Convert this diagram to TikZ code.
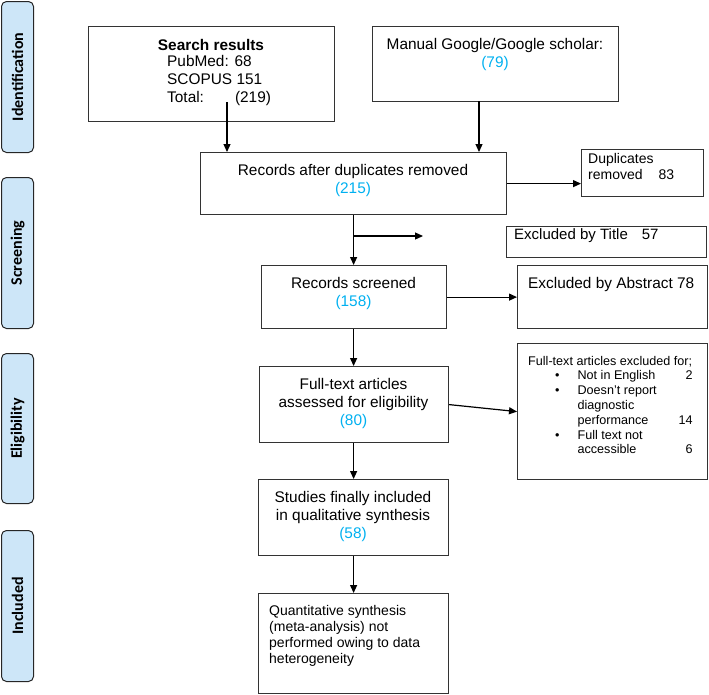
\documentclass[tikz,border=0pt]{standalone}
\usepackage{fontspec}
\setmainfont{Liberation Sans}
\newfontfamily\carlito{Carlito}
\usetikzlibrary{arrows.meta,calc}
\definecolor{nblue}{RGB}{0,176,240}
\definecolor{sidefill}{RGB}{205,230,248}
\begin{document}
\begin{tikzpicture}[x=1pt,y=-1pt,
  box/.style={draw=black!80, line width=1.2pt, inner sep=0pt, anchor=north west},
  side/.style={draw=black!85, fill=sidefill, rounded corners=5pt, line width=1pt, inner sep=0pt, anchor=north west, minimum width=32pt},
  sidetxt/.style={rotate=90, font=\carlito\bfseries\fontsize{16}{20}\selectfont},
  txt/.style={inner sep=0pt, align=center, font=\fontsize{15.4}{18}\selectfont},
  ltxt/.style={inner sep=0pt, align=left, anchor=west, font=\fontsize{15.4}{18}\selectfont},
  stxt/.style={inner sep=0pt, align=left, anchor=west, font=\fontsize{14}{16}\selectfont},
  arr/.style={-{Triangle[length=8pt,width=7pt]}, line width=1.2pt}]
\useasboundingbox (0,0) rectangle (709,694);
% side labels
\node[side, minimum height=151pt] (s1) at (1,1) {};
\node[side, minimum height=151pt] (s2) at (1,177) {};
\node[side, minimum height=150pt] (s3) at (1,353) {};
\node[side, minimum height=151pt] (s4) at (1,530) {};
\node[sidetxt] (s1t) at (s1.center) {Identification};
\node[sidetxt] (s2t) at (s2.center) {Screening};
\node[sidetxt] (s3t) at (s3.center) {Eligibility};
\node[sidetxt] (s4t) at (s4.center) {Included};
% boxes
\node[box, minimum width=246pt, minimum height=95pt] (search) at (88,26) {};
\node[box, minimum width=246pt, minimum height=75pt] (manual) at (372,26) {};
\node[box, minimum width=306pt, minimum height=62pt] (recdup) at (200,152) {};
\node[box, minimum width=122pt, minimum height=47pt] (dup) at (581,149) {};
\node[box, minimum width=200pt, minimum height=31pt] (title) at (506,226) {};
\node[box, minimum width=185pt, minimum height=63pt] (screened) at (261,265) {};
\node[box, minimum width=190pt, minimum height=63pt] (abstract) at (517,265) {};
\node[box, minimum width=189pt, minimum height=76pt] (fulltext) at (259,366) {};
\node[box, minimum width=190pt, minimum height=136pt] (exclfor) at (517,343) {};
\node[box, minimum width=190pt, minimum height=76pt] (studies) at (258,479) {};
\node[box, minimum width=190pt, minimum height=100pt] (quant) at (258,593) {};
% texts
\node[txt, font=\bfseries\fontsize{15.4}{18}\selectfont] (st) at (211,45) {Search results};
\node[ltxt] (sl) at (167,81) {PubMed: 68\\SCOPUS 151\\Total:\hspace{31pt}(219)};
\node[txt] (mt) at (495,55) {Manual Google/Google scholar:\\{\color{nblue}(79)}};
\node[txt] (rt) at (353,181) {Records after duplicates removed\\{\color{nblue}(215)}};
\node[stxt] (dt) at (588,166) {Duplicates\\removed\hspace{16pt}83};
\node[ltxt, font=\fontsize{15}{18}\selectfont] (tt) at (514,236) {Excluded by Title\hspace{14pt}57};
\node[txt] (sct) at (353.5,293.5) {Records screened\\{\color{nblue}(158)}};
\node[ltxt] (at) at (528,285) {Excluded by Abstract 78};
\node[txt] (ft) at (353.5,404) {Full-text articles\\assessed for eligibility\\{\color{nblue}(80)}};
\node[inner sep=0pt, anchor=north west, font=\fontsize{12.6}{14.8}\selectfont] (et) at (528,354.5) {%
\begin{tabular}{@{\hspace{27pt}}c@{\hspace{18pt}}p{101pt}@{}r@{}}
\multicolumn{3}{@{}l@{}}{Full-text articles excluded for;}\\
\textbullet & Not in English & 2\\
\textbullet & Doesn’t report & \\
 & diagnostic & \\
 & performance & 14\\
\textbullet & Full text not & \\
 & accessible & 6
\end{tabular}};
\node[txt] (stt) at (353,517) {Studies finally included\\in qualitative synthesis\\{\color{nblue}(58)}};
\node[stxt] (qt) at (269,636) {Quantitative synthesis\\(meta-analysis) not\\performed owing to data\\heterogeneity};
% connectors
\coordinate (sa) at (227,102);
\draw[arr] (sa) -- (sa |- recdup.north);
\coordinate (ma) at (479,101);
\draw[arr] (ma) -- (ma |- recdup.north);
\draw[arr] (recdup.east) -- (recdup.east -| dup.west);
\draw[arr] (recdup.south) -- (recdup.south |- screened.north);
\coordinate (tstart) at (353,236);
\coordinate (tend) at (423,236);
\draw[arr] (tstart) -- (tend);
\draw[arr] (screened.east) -- (abstract.west);
\draw[arr] (screened.south -| recdup.south) -- (recdup.south |- fulltext.north);
\draw[arr] (fulltext.east) -- (exclfor.west);
\draw[arr] (fulltext.south -| recdup.south) -- (recdup.south |- studies.north);
\draw[arr] (studies.south -| recdup.south) -- (recdup.south |- quant.north);
\end{tikzpicture}
\end{document}
